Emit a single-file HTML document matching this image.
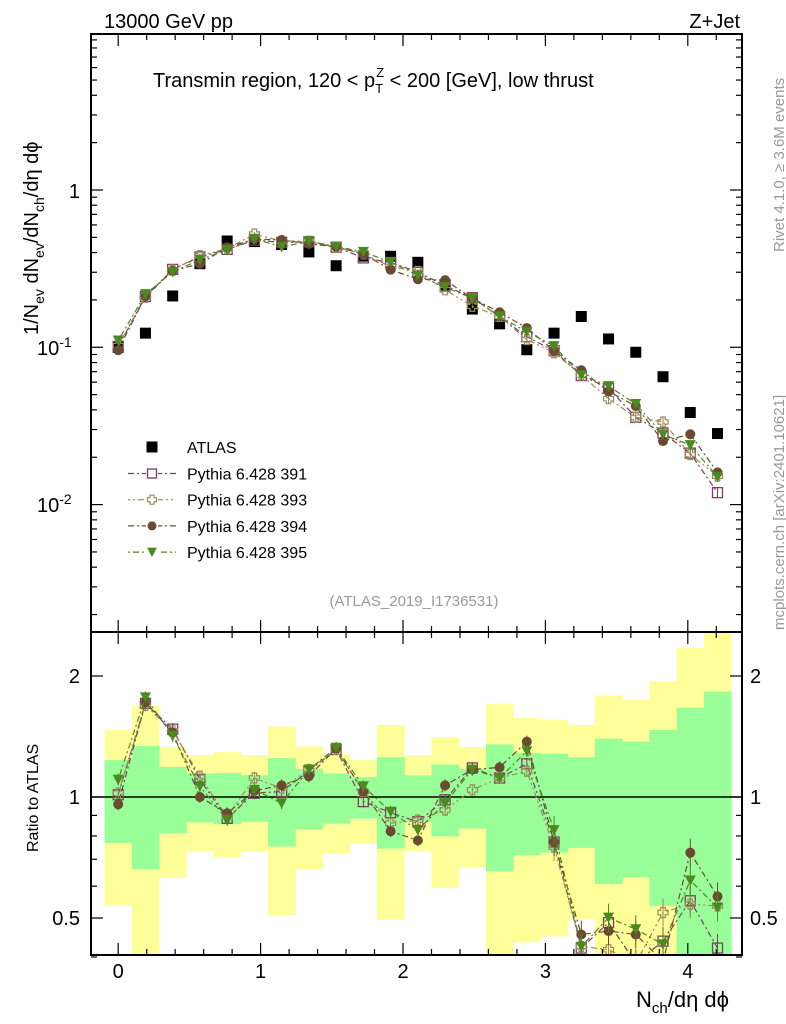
<!DOCTYPE html>
<html><head><meta charset="utf-8"><style>
html,body{margin:0;padding:0;background:#fff;}
svg{display:block;font-family:"Liberation Sans",sans-serif;}
</style></head><body>
<svg id="c" width="786" height="1024" viewBox="0 0 786 1024" xmlns="http://www.w3.org/2000/svg"></svg>
<script>
const centers=[0,0.1913,0.3826,0.5739,0.7652,0.9565,1.1478,1.3391,1.5304,1.7217,1.913,2.1043,2.2956,2.4869,2.6782,2.8695,3.0608,3.2521,3.4434,3.6347,3.826,4.0173,4.2086];
const binHalf=0.0957;
const atlas=[0.100,0.123,0.212,0.34,0.474,0.47,0.45,0.404,0.33,0.38,0.379,0.347,0.25,0.175,0.141,0.0965,0.123,0.157,0.113,0.093,0.065,0.0385,0.0283];
const r391=[1.013,1.71,1.475,1.104,0.885,1.022,1.032,1.16,1.313,0.974,0.914,0.868,0.984,1.181,1.115,1.209,0.773,0.421,0.487,0.386,0.438,0.552,0.421];
const r393=[1.022,1.69,1.46,1.126,0.893,1.115,1.052,1.17,1.313,1.032,0.86,0.876,0.928,1.042,1.115,1.16,0.751,0.425,0.417,0.386,0.516,0.541,0.536];
const r394=[0.959,1.72,1.446,1.0,0.911,1.036,1.069,1.126,1.32,1.032,0.822,0.78,1.069,1.17,1.185,1.373,0.773,0.455,0.464,0.455,0.39,0.727,0.566];
const r395=[1.104,1.77,1.418,1.063,0.876,1.042,0.965,1.17,1.326,1.063,0.919,0.827,0.965,1.17,1.115,1.30,0.827,0.424,0.501,0.469,0.43,0.62,0.531];
const yelHi=[1.468,1.684,1.331,1.271,1.293,1.271,1.497,1.336,1.279,1.235,1.511,1.271,1.41,1.331,1.707,1.574,1.556,1.511,1.788,1.747,1.938,2.35,2.6];
const yelLo=[0.538,0.38,0.629,0.734,0.709,0.734,0.508,0.661,0.723,0.766,0.495,0.734,0.595,0.669,0.38,0.435,0.45,0.496,0.38,0.38,0.38,0.38,0.38];
const grnHi=[1.235,1.339,1.188,1.144,1.147,1.132,1.249,1.175,1.144,1.121,1.256,1.132,1.204,1.175,1.352,1.288,1.281,1.256,1.397,1.373,1.468,1.668,1.829];
const grnLo=[0.769,0.661,0.813,0.865,0.855,0.868,0.753,0.83,0.858,0.883,0.744,0.868,0.798,0.834,0.653,0.716,0.727,0.747,0.607,0.631,0.536,0.38,0.38];
const xTicks=[0,1,2,3,4];
const ratioTicks=[2,1,0.5];

const NS="http://www.w3.org/2000/svg";
const svg=document.getElementById('c');
const L=91,R=742,T=34,M=632,B=955;
const X=v=>118.2+v*142.4;
const Ym=v=>190-Math.log10(v)*157.3;
const Yr=v=>797-Math.log10(v)*402;
function mk(tag,attrs,parent){const e=document.createElementNS(NS,tag);for(const k in attrs)e.setAttribute(k,attrs[k]);(parent||svg).appendChild(e);return e;}
function txt(s,x,y,size,attrs,parent){const e=mk('text',Object.assign({x:x,y:y,'font-size':size},attrs||{}),parent);e.textContent=s;return e;}

const defs=mk('defs',{});
const cp1=mk('clipPath',{id:'cm'},defs);mk('rect',{x:L,y:T,width:R-L,height:M-T},cp1);
const cp2=mk('clipPath',{id:'cr'},defs);mk('rect',{x:L,y:M,width:R-L,height:B-M},cp2);

const bands=mk('g',{'clip-path':'url(#cr)'});


centers.forEach((c,i)=>{
  const x0=X(c-binHalf),x1=X(c+binHalf);
  const y=mk('rect',{x:x0,y:Yr(yelHi[i]),width:x1-x0+0.5,height:Yr(yelLo[i])-Yr(yelHi[i]),fill:'#ffff99'},bands);
  
  
});
centers.forEach((c,i)=>{
  const x0=X(c-binHalf),x1=X(c+binHalf);
  const g=mk('rect',{x:x0,y:Yr(grnHi[i]),width:x1-x0+0.5,height:Yr(grnLo[i])-Yr(grnHi[i]),fill:'#99ff99'},bands);
  
  
});
mk('line',{x1:L,x2:R,y1:Yr(1),y2:Yr(1),stroke:'#000','stroke-width':1.5});

const series=[
 {name:'391',r:r391,col:'#7b3f63',m:'sq',dash:'6,3,2,3'},
 {name:'393',r:r393,col:'#9c8a5a',m:'cross',dash:'2,3,2,3,6,3'},
 {name:'394',r:r394,col:'#6b4a32',m:'circ',dash:'6,3,2,3'},
 {name:'395',r:r395,col:'#4b8a1e',m:'tri',dash:'2,3,6,3'}
];
function marker(type,x,y,col,parent,s){
  s=s||5;
  if(type==='sq')return mk('rect',{x:x-s,y:y-s,width:2*s,height:2*s,fill:'none',stroke:col,'stroke-width':1.3},parent);
  if(type==='cross'){const a=s*0.45;return mk('path',{d:`M${x-a},${y-s}h${2*a}v${s-a}h${s-a}v${2*a}h${-(s-a)}v${s-a}h${-2*a}v${-(s-a)}h${-(s-a)}v${-2*a}h${s-a}z`,fill:'none',stroke:col,'stroke-width':1.2},parent);}
  if(type==='circ')return mk('circle',{cx:x,cy:y,r:s,fill:col},parent);
  if(type==='tri')return mk('path',{d:`M${x-s*1.1},${y-s}L${x+s*1.1},${y-s}L${x},${y+s*1.1}z`,fill:col},parent);
  if(type==='atlas')return mk('rect',{x:x-5.5,y:y-5.5,width:11,height:11,fill:'#000'},parent);
}

const gm=mk('g',{'clip-path':'url(#cm)'});


centers.forEach((c,i)=>{
  const a=marker('atlas',X(c),Ym(atlas[i]),'#000',gm);
  
  
});
series.forEach(s=>{
  const g=mk('g',{},gm);
  
  
  const vals=centers.map((c,i)=>atlas[i]*s.r[i]);
  mk('polyline',{points:centers.map((c,i)=>X(c)+','+Ym(vals[i])).join(' '),fill:'none',stroke:s.col,'stroke-width':1.2,'stroke-dasharray':s.dash},g);
  centers.forEach((c,i)=>{
    const y=Ym(vals[i]);const e=i>14?5:2;
    mk('line',{x1:X(c),x2:X(c),y1:y-e,y2:y+e,stroke:s.col,'stroke-width':1},g);
    marker(s.m,X(c),y,s.col,g);
  });
});
const gr=mk('g',{'clip-path':'url(#cr)'});


series.forEach(s=>{
  const g=mk('g',{},gr);
  
  
  mk('polyline',{points:centers.map((c,i)=>X(c)+','+Yr(s.r[i])).join(' '),fill:'none',stroke:s.col,'stroke-width':1.2,'stroke-dasharray':s.dash},g);
  centers.forEach((c,i)=>{
    const y=Yr(s.r[i]);const e=i>15?14:6;
    mk('line',{x1:X(c),x2:X(c),y1:y-e,y2:y+e,stroke:s.col,'stroke-width':1},g);
    marker(s.m,X(c),y,s.col,g);
  });
});

mk('rect',{x:L,y:T,width:R-L,height:M-T,fill:'none',stroke:'#000','stroke-width':2});
mk('rect',{x:L,y:M,width:R-L,height:B-M,fill:'none',stroke:'#000','stroke-width':2});

const tk=mk('g',{stroke:'#000','stroke-width':1.2});
for(let v=-0.2;v<=4.4;v+=0.2){
  const vv=Math.round(v*10)/10;const x=X(vv);if(x<L||x>R)continue;
  const maj=Math.abs(vv-Math.round(vv))<1e-6;const len=maj?12:6;
  [T,M].forEach(y0=>mk('line',{x1:x,x2:x,y1:y0,y2:y0+len},tk));
  [M,B].forEach(y0=>mk('line',{x1:x,x2:x,y1:y0,y2:y0-len},tk));
}
xTicks.forEach(v=>{const t=txt(String(v),X(v),978,20,{'text-anchor':'middle'});});
for(let d=-3;d<=1;d++){for(let k=1;k<10;k++){const v=k*Math.pow(10,d);const y=Ym(v);if(y<T||y>M)continue;const len=k===1?12:6;mk('line',{x1:L,x2:L+len,y1:y,y2:y},tk);mk('line',{x1:R,x2:R-len,y1:y,y2:y},tk);}}
const yl1=txt('1',80,198,20,{'text-anchor':'end'});
[[-1,355],[-2,512]].forEach(([p,y])=>{const t=mk('text',{x:37,y:y,'font-size':20});t.innerHTML='10<tspan dy="-8" font-size="14">'+p+'</tspan>';});
[0.4,0.5,0.6,0.7,0.8,0.9,1,2].forEach(v=>{const y=Yr(v);const len=(v===1||v===2||v===0.5)?12:6;mk('line',{x1:L,x2:L+len,y1:y,y2:y},tk);mk('line',{x1:R,x2:R-len,y1:y,y2:y},tk);});
ratioTicks.forEach(v=>{const y=Yr(v)+7;const s=String(v);
 const a=txt(s,80,y,20,{'text-anchor':'end'});
 const b=txt(s,750,y,20,{});});

let t;
t=txt('13000 GeV pp',104,28,20,{});
t=txt('Z+Jet',740,28,20,{'text-anchor':'end'});
t=mk('text',{x:153,y:87,'font-size':20});
t.innerHTML='Transmin region, 120 &lt; p<tspan dy="6" font-size="13">T</tspan><tspan dy="-16" dx="-7" font-size="13">Z</tspan><tspan dy="10"> &lt; 200 [GeV], low thrust</tspan>';
t=txt('(ATLAS_2019_I1736531)',414,606,15,{'text-anchor':'middle',fill:'#999'});
t=mk('text',{x:0,y:0,'font-size':20,transform:'translate(38,335) rotate(-90)'});
t.innerHTML='1/N<tspan dy="6" font-size="14">ev</tspan><tspan dy="-6"> dN</tspan><tspan dy="6" font-size="14">ev</tspan><tspan dy="-6">/dN</tspan><tspan dy="6" font-size="14">ch</tspan><tspan dy="-6">/dη dϕ</tspan>';
t=txt('Ratio to ATLAS',0,0,16,{transform:'translate(38,852) rotate(-90)'});
t=mk('text',{x:636,y:1007,'font-size':22});
t.innerHTML='N<tspan dy="6" font-size="15">ch</tspan><tspan dy="-6">/dη dϕ</tspan>';
t=txt('Rivet 4.1.0, ≥ 3.6M events',0,0,15,{fill:'#999',transform:'translate(784,252) rotate(-90)'});
t=txt('mcplots.cern.ch [arXiv:2401.10621]',0,0,15,{fill:'#999',transform:'translate(784,630) rotate(-90)'});

const lg=mk('g',{});


const la=marker('atlas',152,447,'#000',lg);
t=txt('ATLAS',187,453,16,{},lg);
series.forEach((s,i)=>{const y=473.5+i*26.2;
 mk('line',{x1:128,x2:176,y1:y,y2:y,stroke:s.col,'stroke-width':1.2,'stroke-dasharray':s.dash},lg);
 mk('rect',{x:146,y:y-6,width:12,height:12,fill:'#fff'},lg);
 marker(s.m,152,y,s.col,lg,4.5);
 const e=txt('Pythia 6.428 '+s.name,187,y+6,16,{},lg);
 
 
});
</script>
</body></html>
